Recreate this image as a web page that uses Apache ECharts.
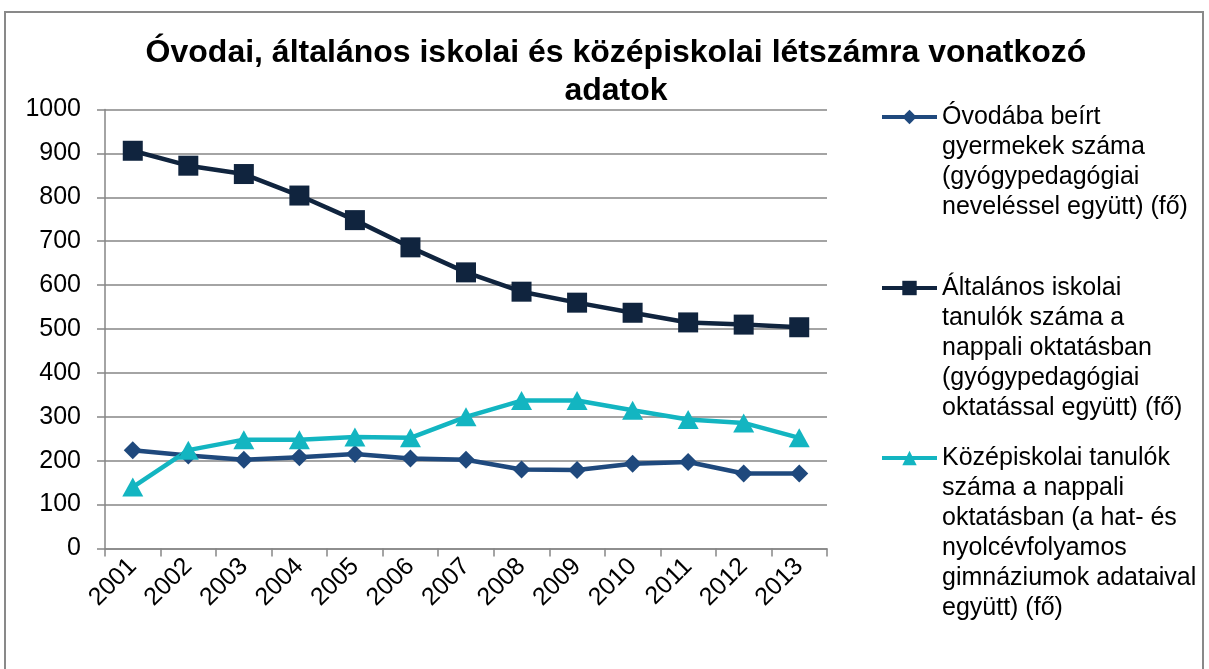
<!DOCTYPE html>
<html><head><meta charset="utf-8">
<script src="https://cdn.jsdelivr.net/npm/echarts@6/dist/echarts.min.js"></script>
<style>html,body{margin:0;padding:0;background:#fff}#c{width:1209px;height:669px}</style>
</head><body><div id="c"></div>
<script>
const years = ['2001','2002','2003','2004','2005','2006','2007','2008','2009','2010','2011','2012','2013'];
const ovoda = [224, 212, 202, 208, 215, 205, 202, 180, 179, 193, 197, 171, 171];
const altalanos = [906, 872, 853, 804, 748, 686, 629, 585, 560, 537, 515, 510, 504];
const kozep = [140, 224, 248, 248, 254, 252, 300, 337, 337, 315, 294, 286, 252];
const names = [
  'Óvodába beírt\ngyermekek száma\n(gyógypedagógiai\nneveléssel együtt) (fő)',
  'Általános iskolai\ntanulók száma a\nnappali oktatásban\n(gyógypedagógiai\noktatással együtt) (fő)',
  'Középiskolai tanulók\nszáma a nappali\noktatásban (a hat- és\nnyolcévfolyamos\ngimnáziumok adataival\negyütt) (fő)'
];
const titleText = 'Óvodai, általános iskolai és középiskolai létszámra vonatkozó\nadatok';
const yMin = 0, yMax = 1000, yStep = 100;

const colors = ['#1F497D', '#10243E', '#13B5C1'];
const font = '"Liberation Sans", Arial, sans-serif';
const LH = 30;
function legendFor(i, top) {
  return {
    data: [names[i]], left: 880, top: top, orient: 'vertical', padding: 0,
    itemWidth: 55, itemHeight: 18, selectedMode: false,
    lineStyle: { width: 4 },
    formatter: function (name) {
      const n = name.split('\n').length;
      return '\n'.repeat(n - 1) + name;
    },
    textStyle: { fontFamily: font, fontSize: 25, color: '#000', lineHeight: LH }
  };
}
const chart = echarts.init(document.getElementById('c'), null, {renderer: 'canvas'});
chart.setOption({
  animation: false,
  backgroundColor: '#fff',
  title: {
    text: titleText, left: 611, textAlign: 'center', top: 29,
    textStyle: { fontFamily: font, fontSize: 32, fontWeight: 'bold', color: '#000', lineHeight: 38 }
  },
  graphic: [{
    type: 'rect', shape: { x: 5, y: 12, width: 1198, height: 700 },
    style: { fill: 'none', stroke: '#898989', lineWidth: 2 }, silent: true
  }],
  legend: [legendFor(0, 12), legendFor(1, 153), legendFor(2, 293)],
  grid: { left: 105, right: 382, top: 109.5, bottom: 120.5, containLabel: false },
  xAxis: {
    type: 'category', data: years, boundaryGap: true,
    axisLine: { lineStyle: { color: '#868686', width: 1.5 } },
    axisTick: { show: true, length: 8, lineStyle: { color: '#868686', width: 1.5 } },
    axisLabel: { rotate: 45, margin: 14, fontFamily: font, fontSize: 25, color: '#000' }
  },
  yAxis: {
    type: 'value', min: yMin, max: yMax, interval: yStep,
    axisLine: { show: true, lineStyle: { color: '#868686', width: 1.5 } },
    axisTick: { show: true, length: 8, lineStyle: { color: '#868686', width: 1.5 } },
    splitLine: { lineStyle: { color: '#868686', width: 1.5 } },
    axisLabel: { margin: 24, fontFamily: font, fontSize: 25, color: '#000', formatter: function (v) { return String(v); } }
  },
  series: [
    { name: names[0], type: 'line', data: ovoda, symbol: 'diamond', symbolSize: [18, 18],
      lineStyle: { color: colors[0], width: 4.5 }, itemStyle: { color: colors[0] } },
    { name: names[1], type: 'line', data: altalanos, symbol: 'rect', symbolSize: 20,
      lineStyle: { color: colors[1], width: 4.5 }, itemStyle: { color: colors[1] } },
    { name: names[2], type: 'line', data: kozep, symbol: 'triangle', symbolSize: [21, 19],
      lineStyle: { color: colors[2], width: 4.5 }, itemStyle: { color: colors[2] } }
  ]
});
</script></body></html>
